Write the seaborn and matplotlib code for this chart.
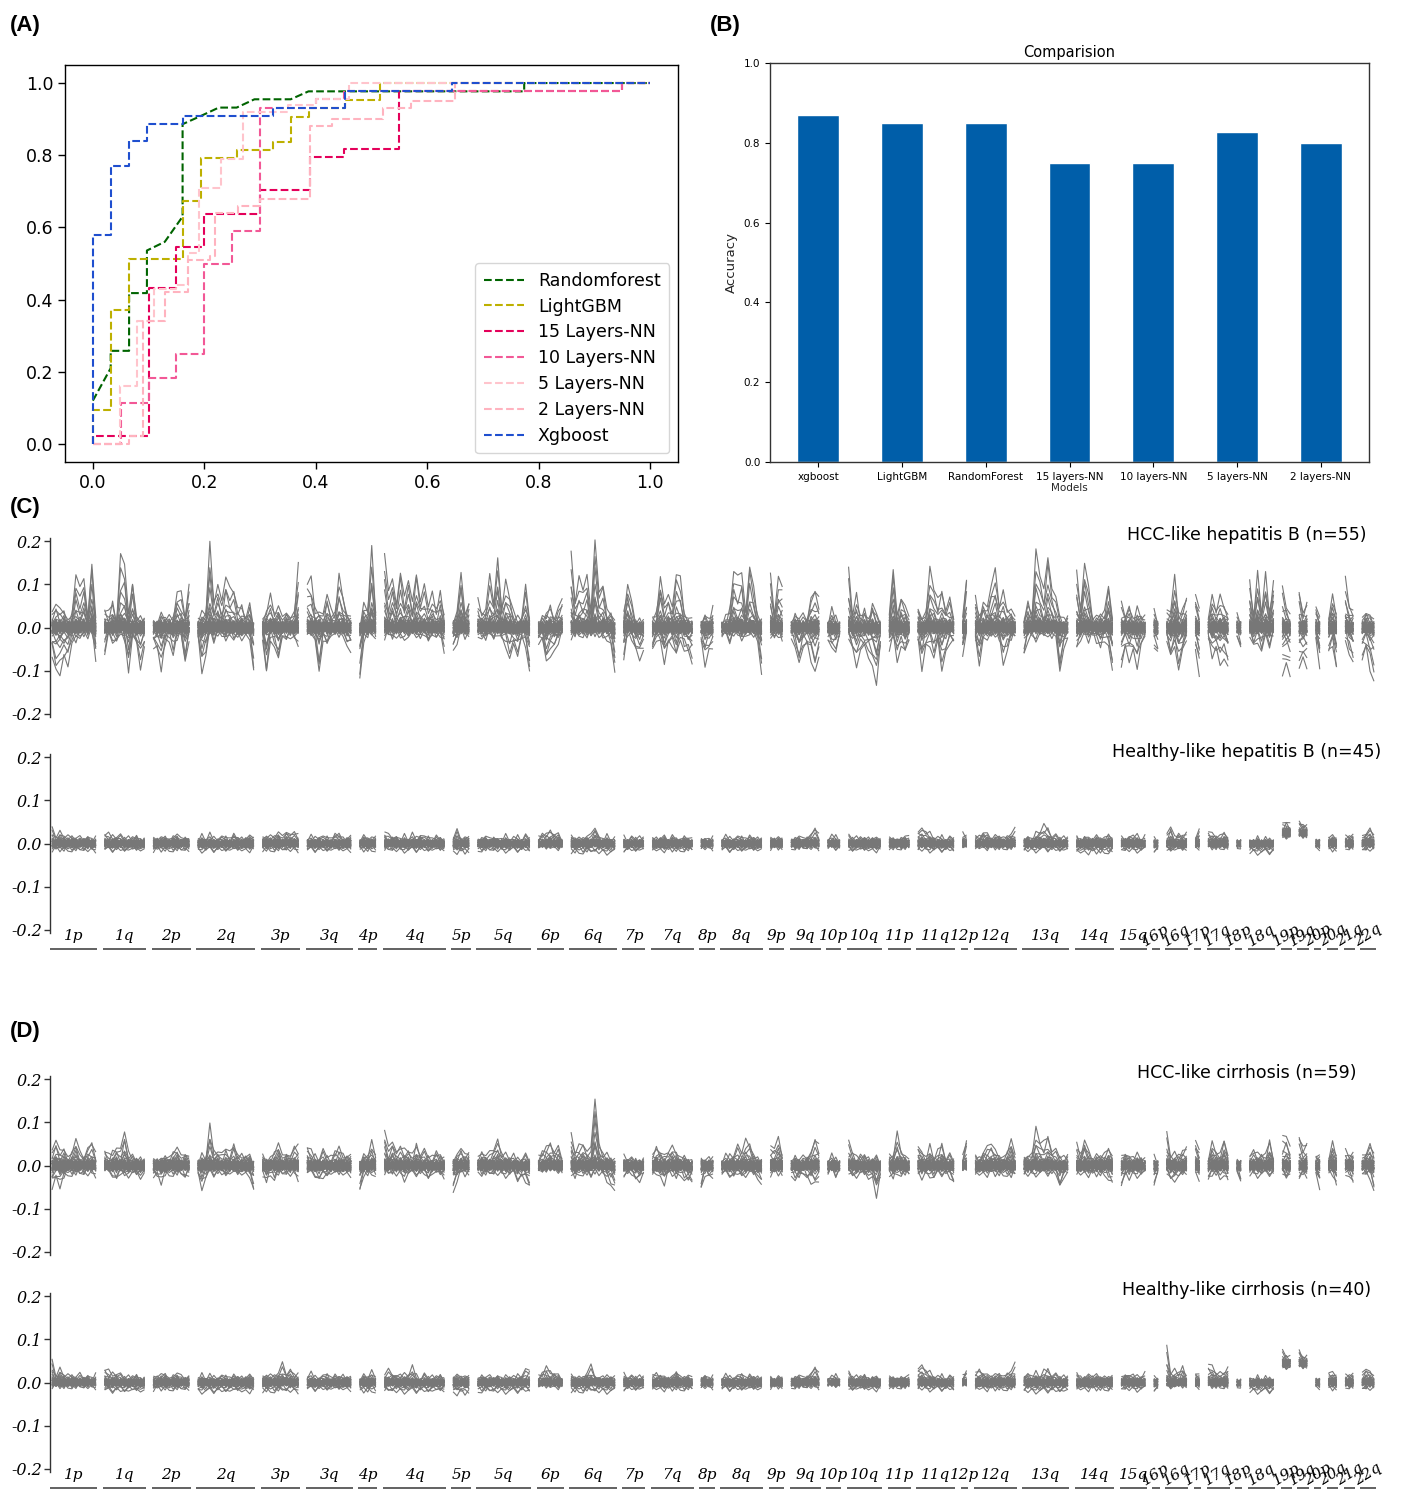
import numpy as np
import pandas as pd
import matplotlib
matplotlib.use("Agg")
import matplotlib.pyplot as plt
import matplotlib.transforms as mtransforms
from matplotlib.collections import LineCollection
import seaborn as sns

sns.set_theme(style="ticks")
plt.rcParams["font.family"] = ["DejaVu Sans"]
plt.rcParams["axes.unicode_minus"] = False
plt.rcParams["text.color"] = "black"

# ---------------- (A) ROC curves ----------------
roc_models = ["Randomforest", "LightGBM", "15 Layers-NN", "10 Layers-NN",
              "5 Layers-NN", "2 Layers-NN", "Xgboost"]
roc_colors = ["#006400", "#bdb000", "#e4005a", "#f25896", "#ffc4cc", "#ffb3bf", "#1f4fcf"]

rf_fpr = [0, 0.032, 0.032, 0.065, 0.065, 0.097, 0.097, 0.129, 0.161, 0.161, 0.194, 0.226,
          0.258, 0.29, 0.355, 0.387, 0.774, 0.774, 1.0]
rf_tpr = [0.12, 0.21, 0.258, 0.258, 0.418, 0.418, 0.536, 0.56, 0.63, 0.886, 0.909, 0.932,
          0.932, 0.955, 0.955, 0.977, 0.977, 1.0, 1.0]
lgb_fpr = [0, 0, 0.032, 0.032, 0.065, 0.065, 0.161, 0.161, 0.194, 0.194, 0.258, 0.258,
           0.323, 0.323, 0.355, 0.355, 0.387, 0.387, 0.452, 0.452, 0.516, 0.516, 1.0]
lgb_tpr = [0, 0.093, 0.093, 0.372, 0.372, 0.512, 0.512, 0.674, 0.674, 0.791, 0.791, 0.814,
           0.814, 0.837, 0.837, 0.907, 0.907, 0.93, 0.93, 0.953, 0.953, 1.0, 1.0]
nn15_fpr = [0, 0, 0.1, 0.1, 0.15, 0.15, 0.2, 0.2, 0.3, 0.3, 0.39, 0.39, 0.45, 0.45, 0.55,
            0.55, 0.95, 0.95, 1.0]
nn15_tpr = [0, 0.023, 0.023, 0.432, 0.432, 0.545, 0.545, 0.636, 0.636, 0.705, 0.705, 0.795,
            0.795, 0.818, 0.818, 0.977, 0.977, 1.0, 1.0]
nn10_fpr = [0, 0.05, 0.05, 0.1, 0.1, 0.15, 0.15, 0.2, 0.2, 0.25, 0.25, 0.3, 0.3, 0.4, 0.4,
            0.45, 0.45, 0.95, 0.95, 1.0]
nn10_tpr = [0, 0, 0.114, 0.114, 0.182, 0.182, 0.25, 0.25, 0.5, 0.5, 0.59, 0.59, 0.93, 0.93,
            0.955, 0.955, 0.977, 0.977, 1.0, 1.0]
nn5_fpr = [0, 0.048, 0.048, 0.08, 0.08, 0.11, 0.11, 0.15, 0.15, 0.17, 0.17, 0.19, 0.19, 0.23,
           0.23, 0.27, 0.27, 0.35, 0.35, 0.4, 0.4, 0.46, 0.46, 1.0]
nn5_tpr = [0, 0, 0.16, 0.16, 0.34, 0.34, 0.43, 0.43, 0.44, 0.44, 0.53, 0.53, 0.71, 0.71,
           0.79, 0.79, 0.92, 0.92, 0.94, 0.94, 0.955, 0.955, 1.0, 1.0]
nn2_fpr = [0, 0.065, 0.065, 0.09, 0.09, 0.13, 0.13, 0.17, 0.17, 0.21, 0.21, 0.22, 0.22, 0.26,
           0.26, 0.3, 0.3, 0.39, 0.39, 0.43, 0.43, 0.52, 0.52, 0.57, 0.57, 0.65, 0.65, 1.0]
nn2_tpr = [0, 0, 0.023, 0.023, 0.34, 0.34, 0.42, 0.42, 0.51, 0.51, 0.52, 0.52, 0.64, 0.64,
           0.66, 0.66, 0.68, 0.68, 0.88, 0.88, 0.90, 0.90, 0.93, 0.93, 0.95, 0.95, 1.0, 1.0]
xgb_fpr = [0, 0, 0.032, 0.032, 0.065, 0.065, 0.097, 0.097, 0.161, 0.161, 0.323, 0.323,
           0.452, 0.452, 0.645, 0.645, 1.0]
xgb_tpr = [0, 0.58, 0.58, 0.77, 0.77, 0.84, 0.84, 0.886, 0.886, 0.909, 0.909, 0.932, 0.932,
           0.977, 0.977, 1.0, 1.0]

# ---------------- (B) accuracy bars ----------------
bar_models = ["xgboost", "LightGBM", "RandomForest", "15 layers-NN", "10 layers-NN",
              "5 layers-NN", "2 layers-NN"]
bar_accuracy = [0.87, 0.85, 0.85, 0.75, 0.75, 0.827, 0.80]

# ---------------- (C)/(D) copy-number profiles ----------------
arm_names = ["1p", "1q", "2p", "2q", "3p", "3q", "4p", "4q", "5p", "5q", "6p", "6q", "7p", "7q",
             "8p", "8q", "9p", "9q", "10p", "10q", "11p", "11q", "12p", "12q", "13q", "14q",
             "15q", "16p", "16q", "17p", "17q", "18p", "18q", "19p", "19q", "20p", "20q",
             "21q", "22q"]
arm_bins = [12, 11, 10, 15, 10, 12, 5, 16, 5, 14, 7, 12, 6, 11, 4, 11, 4, 8, 4, 9, 6, 10, 2,
            11, 12, 10, 7, 2, 6, 2, 6, 2, 7, 3, 3, 2, 3, 3, 4]

# per-sample loadings on the gain / loss profile of each cohort
gain_up = [1.00, 0.05, 0.80, 0.10, 0.62, 0.00, 0.48, 0.15, 0.36, 0.02, 0.28, 0.08, 0.22, 0.00,
           0.17, 0.12, 0.04, 0.13, 0.00, 0.09, 0.06, 0.03, 0.10, 0.00, 0.07, 0.05, 0.02, 0.04,
           0.00, 0.03, 0.06, 0.01, 0.02, 0.00, 0.05, 0.03, 0.01, 0.00, 0.04, 0.02, 0.00, 0.03,
           0.01, 0.02, 0.00, 0.01, 0.03, 0.00, 0.02, 0.01, 0.00, 0.02, 0.01, 0.00, 0.01, 0.00,
           0.02, 0.01, 0.00]
gain_dn = [0.04, 0.95, 0.02, 0.75, 0.05, 0.58, 0.00, 0.44, 0.08, 0.33, 0.03, 0.25, 0.00, 0.19,
           0.06, 0.02, 0.14, 0.00, 0.11, 0.04, 0.08, 0.01, 0.00, 0.06, 0.03, 0.05, 0.00, 0.02,
           0.04, 0.01, 0.00, 0.03, 0.02, 0.01, 0.00, 0.02, 0.03, 0.00, 0.01, 0.02, 0.00, 0.01,
           0.00, 0.02, 0.01, 0.00, 0.01, 0.02, 0.00, 0.01, 0.00, 0.01, 0.00, 0.02, 0.00, 0.01,
           0.00, 0.01, 0.00]
bin_noise = [0.6, -0.4, 0.9, -0.8, 0.2, -0.1, 0.7, -0.9, 0.4, -0.3, 1.0, -0.6, 0.1, -0.7,
             0.5, -0.2, 0.8, -1.0, 0.3, -0.5, 0.0, 0.45, -0.65]

# HCC-like hepatitis B (values in units of 0.01)
hbv_hcc_up = [
    [3, 7, 4, 4, 2, 3, 12, 9, 12, 2, 16, 1], [5, 3, 6, 2, 16, 15, 3, 11, 2, 3, 2],
    [1, 2, 3, 2, 3, 2, 8, 8, 3, 10], [2, 3, 4, 19, 6, 11, 5, 12, 9, 9, 4, 6, 2, 5, 1],
    [1, 4, 8, 3, 5, 2, 4, 2, 4, 14], [11, 11, 4, 5, 2, 8, 4, 3, 12, 8, 3, 2],
    [1, 5, 4, 19, 3], [17, 8, 12, 5, 14, 6, 12, 5, 13, 7, 9, 5, 8, 4, 8, 3],
    [1, 3, 14, 2, 6], [7, 3, 4, 12, 6, 16, 5, 10, 8, 3, 2, 3, 9, 2],
    [1, 2, 3, 6, 2, 4, 8], [17, 6, 12, 9, 12, 3, 21, 8, 11, 3, 4, 1],
    [3, 11, 5, 1, 2, 1], [2, 4, 12, 5, 9, 4, 13, 12, 3, 2, 2],
    [1, 3, 2, 4], [1, 2, 4, 14, 11, 13, 3, 15, 9, 3, 2],
    [12, 4, 11, 10], [1, 3, 2, 3, 2, 7, 10, 6],
    [1, 4, 2, 1], [13, 3, 8, 2, 4, 2, 6, 3, 2],
    [2, 14, 3, 7, 5, 2], [5, 2, 4, 13, 10, 6, 9, 5, 6, 2],
    [2, 12], [7, 3, 6, 4, 11, 13, 5, 9, 4, 4, 2],
    [2, 6, 3, 17, 13, 8, 17, 10, 6, 3, 2, 2], [13, 5, 15, 9, 3, 2, 3, 4, 10, 2],
    [6, 3, 5, 2, 4, 3, 2], [4, 2], [3, 4, 12, 3, 4, 8], [8, 4], [3, 7, 4, 8, 5, 3],
    [3, 1], [11, 3, 12, 4, 12, 3, 12], [9, 5, 3], [9, 3, 7], [5, 2], [3, 7, 3],
    [12, 5, 4], [2, 4, 3, 2]]
hbv_hcc_dn = [
    [-6, -12, -11, -8, -9, -3, -4, -3, -2, -2, -1, -7], [-7, -2, -3, -4, -2, -3, -11, -3, -4, -10, -5],
    [-4, -6, -10, -4, -3, -6, -3, -2, -9, -3], [-2, -10, -7, -2, -3, -2, -2, -3, -2, -4, -2, -3, -2, -2, -12],
    [-2, -12, -3, -4, -9, -2, -3, -2, -3, -4], [-2, -3, -2, -12, -3, -4, -2, -2, -2, -2, -5, -5],
    [-14, -3, -2, -2, -2], [-3, -2, -3, -2, -3, -2, -3, -2, -2, -3, -2, -3, -2, -3, -2, -6],
    [-6, -3, -2, -2, -2], [-2, -2, -3, -2, -3, -2, -3, -4, -8, -5, -6, -3, -5, -11],
    [-4, -3, -9, -7, -6, -3, -2], [-3, -2, -2, -2, -2, -2, -2, -2, -3, -2, -4, -12],
    [-7, -2, -3, -5, -8, -6], [-6, -3, -4, -8, -5, -4, -8, -3, -5, -7, -9],
    [-3, -9, -6, -4], [-2, -2, -3, -2, -2, -3, -2, -3, -2, -3, -12],
    [-2, -3, -2, -4], [-2, -4, -10, -5, -4, -8, -12, -6],
    [-3, -6, -5, -2], [-3, -5, -10, -6, -5, -7, -10, -13, -5],
    [-5, -3, -8, -4, -7, -3], [-3, -10, -5, -4, -8, -4, -10, -7, -4, -3],
    [-7, -2], [-3, -9, -3, -2, -3, -2, -3, -9, -5, -3, -2],
    [-7, -3, -2, -3, -2, -3, -2, -3, -2, -11, -5, -3], [-6, -3, -2, -3, -2, -3, -5, -3, -4, -12],
    [-10, -5, -8, -6, -9, -4, -3], [-4, -7], [-3, -7, -5, -11, -6, -3], [-6, -11],
    [-3, -7, -6, -9, -7, -11], [-2, -5], [-2, -5, -3, -6, -3, -4, -2], [-12, -9, -12],
    [-11, -8, -10], [-3, -9], [-7, -4, -11], [-3, -6, -10], [-8, -5, -10, -14]]

# Healthy-like hepatitis B
hbv_healthy_up = [
    [3.5, 2, 2.5, 1.5, 2, 1.5, 1, 1.5, 1, 1.5, 1, 1], [2.5, 2, 1.5, 2, 1.5, 1, 1.5, 1, 1.5, 1, 1],
    [1, 1.5, 1, 1.5, 1, 1.5, 2, 1, 1.5, 1], [1, 1.5, 1, 2, 1, 1.5, 1, 1.5, 1, 2, 1, 1.5, 1, 1.5, 2],
    [1, 1.5, 2, 1.5, 2.5, 1.5, 3, 2, 3, 1.5], [1, 1.5, 1, 2, 1, 1.5, 1, 2, 2, 1.5, 1, 1.5],
    [1, 1.5, 1, 1.5, 1.5], [2.5, 2, 1.5, 1.5, 1, 1.5, 1, 2, 1, 2.5, 1, 1.5, 1, 1.5, 1, 1],
    [1, 3, 1.5, 1, 1.5], [1, 1, 1.5, 1, 1.5, 1, 1, 1.5, 1, 1, 1.5, 1, 1.5, 1],
    [1.5, 2, 2, 3.5, 2, 2, 1], [1.5, 1, 1.5, 1, 1.5, 2, 4, 1.5, 1, 1.5, 1, 1],
    [1.5, 1, 1, 1, 1.5, 1], [1, 1.5, 1, 1.5, 1, 1.5, 1, 1, 1.5, 1, 1],
    [1, 1, 1, 1], [1, 1.5, 1, 1.5, 1, 1.5, 1, 1.5, 1, 1.5, 1],
    [1, 1.5, 1, 1], [1, 1, 1.5, 1, 1.5, 2, 4, 1.5],
    [1, 1.5, 1.5, 1], [1.5, 1, 1.5, 1, 1, 1.5, 1, 1, 1.5],
    [1, 1, 1, 1, 1.5, 1.5], [3, 3.5, 3, 2, 1.5, 1, 1.5, 1, 1, 1],
    [2.5, 1.5], [1.5, 2, 2.5, 2, 1.5, 1.5, 1.5, 1.5, 1.5, 2, 3.5],
    [1, 1.5, 1, 2, 3, 4, 3.5, 2, 1.5, 1, 1.5, 1], [1.5, 1, 1.5, 1, 1.5, 1.5, 1, 1.5, 2, 1],
    [1.5, 1, 1.5, 2, 1.5, 1, 1.5], [1, 1], [1.5, 4, 1.5, 2, 1.5, 3], [1, 3],
    [3.5, 2, 1.5, 2, 2.5, 1], [0.5, 0.5], [0.5, 0.5, 1, 0.5, 1, 0.5, 1], [1.5, 2.5, 2],
    [2.5, 1.5, 2], [0.5, 0.5], [2, 1.5, 1], [2, 1.5, 2], [1.5, 2.5, 3.5, 2]]
hbv_healthy_dn = [-1.5, -1.5, -1.5, -1.5, -1.5, -1.5, -1.5, -1.5, -2, -1.5, -1, -2, -1.5, -1.5,
                  -1, -1.5, -1, -1, -1, -1.5, -1, -1.5, -1, -1, -1.5, -2, -1.5, -1.5, -1.5, -1,
                  -1, -1, -2, -1, -1, -1, -1.5, -1, -1.5]
hbv_healthy_base = {"19p": 2.5, "19q": 2.5}

# HCC-like cirrhosis
lc_hcc_up = [
    [3, 7, 3, 4, 2, 3, 6, 3, 2, 4, 6, 2], [4, 2, 3, 5, 3, 8, 3, 2, 1, 2, 1],
    [1, 2, 1, 2, 2, 3, 4, 2, 3, 2], [1, 2, 2, 9, 3, 4, 2, 4, 3, 5, 2, 3, 2, 2, 1],
    [2, 1, 2, 3, 5, 2, 3, 2, 5, 4], [5, 3, 2, 2, 3, 2, 2, 3, 4, 3, 2, 2],
    [1, 2, 2, 6, 2], [8, 4, 6, 3, 5, 3, 4, 2, 5, 3, 3, 2, 2, 3, 2, 2],
    [1, 2, 5, 2, 3], [2, 3, 2, 3, 4, 6, 3, 2, 2, 2, 1, 2, 2, 1],
    [2, 3, 4, 6, 3, 4, 2], [7, 3, 5, 5, 3, 4, 16, 5, 3, 2, 2, 1],
    [2, 2, 1, 1, 1, 1], [2, 5, 3, 2, 4, 4, 3, 2, 2, 1, 1],
    [2, 1, 2, 1], [1, 2, 2, 3, 4, 3, 6, 5, 2, 2, 1],
    [4, 5, 6, 2], [1, 2, 1, 2, 2, 3, 7, 4],
    [1, 2, 1, 1], [5, 3, 2, 2, 2, 2, 1, 2, 1],
    [2, 2, 8, 3, 2, 1], [5, 3, 2, 4, 2, 3, 5, 2, 2, 1],
    [2, 6], [2, 2, 3, 4, 6, 3, 2, 2, 3, 6, 2],
    [2, 2, 3, 8, 6, 5, 7, 4, 3, 2, 2, 2], [5, 3, 6, 3, 2, 2, 2, 3, 4, 2],
    [2, 3, 2, 2, 2, 2, 1], [2, 1], [7, 2, 3, 2, 3, 5], [6, 3], [2, 5, 3, 3, 6, 2],
    [1, 1], [2, 4, 2, 3, 2, 6, 2], [6, 7, 4], [7, 4, 6], [2, 2], [2, 5, 2], [4, 2, 3],
    [2, 3, 5, 3]]
lc_hcc_dn = [
    [-5, -4, -5, -3, -2, -2, -2, -2, -2, -2, -2, -2], [-1, -2, -2, -4, -2, -2, -3, -2, -2, -3, -2],
    [-2, -3, -4, -2, -2, -2, -2, -2, -3, -2], [-2, -5, -3, -2, -2, -2, -2, -2, -2, -2, -2, -2, -2, -2, -7],
    [-2, -4, -2, -3, -2, -2, -2, -2, -2, -3], [-2, -2, -2, -4, -3, -2, -2, -2, -2, -2, -2, -2],
    [-7, -2, -2, -2, -2], [-2, -2, -2, -2, -2, -3, -2, -2, -2, -2, -2, -3, -2, -2, -2, -3],
    [-7, -3, -2, -2, -2], [-1, -2, -2, -2, -2, -2, -2, -2, -2, -2, -3, -3, -4, -5],
    [-1, -2, -1, -1, -1, -1, -2], [-2, -3, -2, -2, -2, -3, -2, -2, -2, -3, -5, -7],
    [-2, -2, -2, -3, -4, -2], [-2, -2, -3, -4, -2, -2, -3, -2, -3, -4, -4],
    [-6, -2, -3, -2], [-2, -2, -2, -3, -2, -2, -3, -2, -2, -3, -5],
    [-2, -2, -2, -2], [-2, -3, -3, -2, -3, -4, -5, -3],
    [-2, -1, -2, -1], [-2, -2, -3, -2, -2, -3, -3, -7, -3],
    [-2, -3, -2, -2, -2, -2], [-2, -3, -2, -2, -3, -2, -2, -2, -3, -4],
    [-1, -1], [-2, -2, -2, -2, -2, -2, -2, -2, -2, -3, -2],
    [-2, -2, -2, -2, -2, -2, -2, -2, -2, -5, -3, -2], [-2, -2, -2, -2, -2, -2, -2, -2, -3, -5],
    [-5, -2, -3, -2, -2, -2, -2], [-4, -2], [-2, -3, -4, -3, -2, -2], [-2, -3],
    [-4, -2, -2, -3, -2, -4], [-1, -4], [-2, -2, -2, -2, -2, -2, -2], [-2, -3, -2],
    [-4, -2, -3], [-2, -5], [-2, -2, -5], [-2, -2, -5], [-2, -2, -3, -7]]

# Healthy-like cirrhosis
lc_healthy_up = [
    [5, 2, 3, 1.5, 2, 1.5, 1, 2, 1, 1.5, 1, 1.5], [3.5, 2.5, 2, 2.5, 1.5, 1, 1.5, 1, 1.5, 1, 1],
    [1, 2, 1.5, 2, 1, 1.5, 2, 1.5, 1, 1.5], [1, 1.5, 1, 1.5, 1, 1.5, 1, 1.5, 1, 1.5, 1, 1.5, 1, 1.5, 1.5],
    [1, 1.5, 2, 1.5, 2, 4.5, 2, 3, 2, 1.5], [1.5, 2, 1, 1.5, 1, 2, 1, 1.5, 1, 2, 1, 1],
    [1, 1.5, 1, 3, 1], [1.5, 3, 2, 1.5, 2, 1.5, 2, 3.5, 1.5, 1, 1.5, 1, 1.5, 1, 1.5, 1],
    [1, 1.5, 2, 1, 1.5], [1, 1.5, 1, 1.5, 1, 1.5, 1, 1, 1.5, 1, 1.5, 2, 2.5, 3],
    [1.5, 2, 3.5, 3, 2, 1.5, 1], [1.5, 1, 1.5, 1, 2, 4, 1.5, 1, 1.5, 1, 1.5, 1],
    [2, 1.5, 1, 1, 1.5, 1], [1.5, 2.5, 1.5, 1, 1.5, 1, 2.5, 1.5, 1, 1.5, 1],
    [1, 1.5, 1, 1], [1, 1.5, 1, 1.5, 1, 2, 1, 1.5, 1, 1.5, 1],
    [1, 1, 1, 1], [1, 1, 1.5, 1, 1.5, 2, 4, 1.5],
    [1, 1, 1.5, 1], [2, 1, 1.5, 1, 1.5, 1, 1, 1, 1],
    [1, 1, 1, 1, 1, 1.5], [3.5, 4, 3, 2, 1.5, 1, 1.5, 1, 1, 1],
    [1.5, 2.5], [2, 3.5, 2, 1.5, 2, 1.5, 2, 1.5, 2, 2.5, 4.5],
    [1.5, 2, 1.5, 2, 1.5, 2.5, 3, 2, 1.5, 1, 1.5, 1], [2, 1.5, 1, 1.5, 2, 1.5, 1, 1.5, 1, 1.5],
    [1, 2, 1.5, 2, 1, 1.5, 2], [1, 1.5], [8, 2, 3, 2, 3.5, 1.5], [2, 1.5],
    [5, 3.5, 2, 2.5, 2, 3.5], [0, 0], [1, 0.5, 1, 0.5, 1, 0.5, 1], [2.5, 1.5, 1.5],
    [3, 1, 2], [0.5, 0.5], [3, 2, 1.5], [2, 1.5, 2], [2, 3.5, 2.5, 1.5]]
lc_healthy_dn = [-1, -2, -1.5, -2, -2, -1.5, -2, -2, -2.5, -2, -1, -2, -1.5, -1.5, -1, -1.5,
                 -1, -1, -0.5, -1.5, -1, -1.5, -0.5, -1.5, -2, -1.5, -1.5, -1.5, -1, -1, -1,
                 -1, -2, -1, -1, -1, -1.5, -1, -1.5]
lc_healthy_base = {"19p": 4.5, "19q": 4.5}

# ---------------- figure ----------------
W, H = 1401, 1489
fig = plt.figure(figsize=(W / 100, H / 100), dpi=100)


def box(left, top, right, bottom):
    return [left / W, 1 - bottom / H, (right - left) / W, (bottom - top) / H]


# (A)
axA = fig.add_axes(box(65, 65, 678, 462))
roc_sets = [(rf_fpr, rf_tpr), (lgb_fpr, lgb_tpr), (nn15_fpr, nn15_tpr), (nn10_fpr, nn10_tpr),
            (nn5_fpr, nn5_tpr), (nn2_fpr, nn2_tpr), (xgb_fpr, xgb_tpr)]
roc_df = pd.concat([pd.DataFrame({"fpr": f, "tpr": t, "model": m})
                    for m, (f, t) in zip(roc_models, roc_sets)], ignore_index=True)
sns.lineplot(data=roc_df, x="fpr", y="tpr", hue="model", hue_order=roc_models,
             palette=roc_colors, sort=False, estimator=None, linestyle="--",
             linewidth=1.5, legend=False, ax=axA)
axA.set_xlim(-0.05, 1.05)
axA.set_ylim(-0.05, 1.05)
axA.set_xticks(np.arange(0, 1.01, 0.2))
axA.set_yticks(np.arange(0, 1.01, 0.2))
axA.set_xticklabels([f"{v:.1f}" for v in np.arange(0, 1.01, 0.2)])
axA.set_yticklabels([f"{v:.1f}" for v in np.arange(0, 1.01, 0.2)])
axA.set_xlabel("")
axA.set_ylabel("")
axA.tick_params(labelsize=12.5, length=5, width=1, colors="black")
for s in axA.spines.values():
    s.set_color("black")
    s.set_linewidth(1.0)
axA.legend(handles=axA.get_lines()[:7], labels=roc_models, loc="lower right", fontsize=12.5,
           frameon=True, handlelength=2.3, borderpad=0.5, labelspacing=0.45)

# (B)
axB = fig.add_axes(box(770, 63, 1369, 462))
bar_df = pd.DataFrame({"model": bar_models, "accuracy": bar_accuracy})
sns.barplot(data=bar_df, x="model", y="accuracy", color="#005ea9", saturation=1, width=0.5,
            ax=axB)
axB.set_xlim(-0.575, 6.575)
axB.set_ylim(0, 1.0)
axB.set_yticks(np.arange(0, 1.01, 0.2))
axB.set_yticklabels([f"{v:.1f}" for v in np.arange(0, 1.01, 0.2)])
axB.tick_params(labelsize=7.5, length=3.5, width=0.8, colors="black")
axB.set_title("Comparision", fontsize=10.5, pad=4)
axB.set_ylabel("Accuracy", fontsize=9.5)
axB.set_xlabel("Models", fontsize=7.5, labelpad=1)
for s in axB.spines.values():
    s.set_color("#333333")
    s.set_linewidth(1.0)

# (C)/(D) genome-wide profiles
gap = 1.2
arm_start = []
pos = 0.0
for nb in arm_bins:
    arm_start.append(pos)
    pos += nb + gap
x_total = pos - gap
noise = np.asarray(bin_noise)


def profile_segments(up, dn, base, n_samples, noise_amp):
    segs = []
    for k in range(n_samples):
        j0 = 0
        for a, nb in enumerate(arm_bins):
            u = np.asarray(up[a], float)
            m = len(u)
            d = dn[a]
            d = np.full(m, float(d)) if np.isscalar(d) else np.asarray(d, float)
            x = arm_start[a] + 0.5 + np.arange(m) * (nb - 1) / max(m - 1, 1)
            b = base.get(arm_names[a], 0.0)
            idx = (3 * (j0 + np.arange(m)) + 7 * k) % len(noise)
            y = (b + gain_up[k] * u + gain_dn[k] * d) * 0.01 + noise_amp * noise[idx]
            segs.append(np.column_stack([x, y]))
            j0 += m
    return segs


profile_panels = [
    (538, hbv_hcc_up, hbv_hcc_dn, {}, 55, 0.014, "HCC-like hepatitis B (n=55)", 535, False),
    (754, hbv_healthy_up, hbv_healthy_dn, hbv_healthy_base, 45, 0.009,
     "Healthy-like hepatitis B (n=45)", 752, True),
    (1076, lc_hcc_up, lc_hcc_dn, {}, 59, 0.012, "HCC-like cirrhosis (n=59)", 1073, False),
    (1293, lc_healthy_up, lc_healthy_dn, lc_healthy_base, 40, 0.009,
     "Healthy-like cirrhosis (n=40)", 1290, True),
]
serif_kw = dict(family="DejaVu Serif", style="italic")

for top, up, dn, base, n, amp, title, title_y, show_arms in profile_panels:
    ax = fig.add_axes(box(50, top, 1378, top + 179))
    segs = profile_segments(up, dn, base, n, amp)
    ax.add_collection(LineCollection(segs, colors="#777777", linewidths=0.8))
    ax.set_xlim(0, x_total + 0.5)
    ax.set_ylim(-0.208, 0.208)
    for side in ("top", "right", "bottom"):
        ax.spines[side].set_visible(False)
    ax.spines["left"].set_color("#333333")
    ax.spines["left"].set_linewidth(1.0)
    ax.set_xticks([])
    ax.set_yticks([0.2, 0.1, 0.0, -0.1, -0.2])
    ax.set_yticklabels(["0.2", "0.1", "0.0", "-0.1", "-0.2"], fontsize=11.5, **serif_kw)
    ax.tick_params(axis="y", length=4, width=1, colors="#333333", labelcolor="black", pad=2)
    fig.text(1247 / W, 1 - title_y / H, title, fontsize=12.5, ha="center", va="center")
    if show_arms:
        trans = mtransforms.blended_transform_factory(ax.transData, ax.transAxes)
        for a, name in enumerate(arm_names):
            s = arm_start[a]
            e = s + arm_bins[a]
            ax.plot([s + 0.1, e - 0.1], [-0.088, -0.088], transform=trans, color="#555555",
                    lw=1.3, clip_on=False, solid_capstyle="butt")
            rot = 32 if a >= 27 else 0
            ax.text((s + e) / 2, -0.015, name, transform=trans, ha="center", va="center",
                    rotation=rot, rotation_mode="anchor", fontsize=11, clip_on=False,
                    **serif_kw)

# panel letters
for lbl, x, y in [("(A)", 10, 25), ("(B)", 710, 25), ("(C)", 10, 508), ("(D)", 10, 1032)]:
    fig.text(x / W, 1 - y / H, lbl, fontsize=16, fontweight="bold", ha="left", va="center",
             family="Liberation Sans", color="black")

fig.savefig("out.png", dpi=100)
